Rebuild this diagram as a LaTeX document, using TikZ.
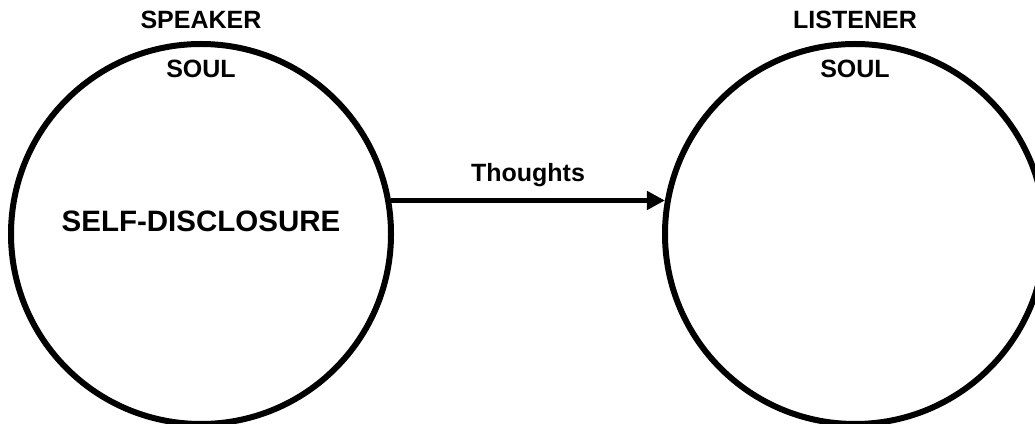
\documentclass[tikz,border=0pt]{standalone}
\usepackage{fontspec}
\setmainfont{Liberation Sans}
\usetikzlibrary{arrows.meta, positioning}
\tikzset{
  every picture/.style={font=\bfseries, line width=6pt, x=1pt, y=1pt},
  soul/.style={draw=black, circle, minimum size=380pt, inner sep=0pt},
  arrow/.style={-{Triangle[length=18pt, width=18pt]}, draw=black, line width=5pt},
  label/.style={font=\fontsize{25}{28}\selectfont\bfseries, inner sep=0pt},
  big/.style={font=\fontsize{29.5}{33}\selectfont\bfseries, inner sep=0pt},
}

\begin{document}
\begin{tikzpicture}
  \useasboundingbox (0,0) rectangle (1035,423);
  \node[soul] (speaker) at (201,189) {};
  \node[soul] (listener) at (855,189) {};
  \node[label, above=9pt of speaker.north] (speakertitle) {SPEAKER};
  \node[label, below=16pt of speaker.north] (speakersoul) {SOUL};
  \node[label, above=9pt of listener.north] (listenertitle) {LISTENER};
  \node[label, below=16pt of listener.north] (listenersoul) {SOUL};
  \node[big] (disclosure) at ([yshift=13pt]speaker.center) {SELF-DISCLOSURE};
  % thoughts go across
  \draw[arrow] (speaker.10) -- (listener.170) node[label, midway, above=11pt] (thoughts) {Thoughts};
\end{tikzpicture}
\end{document}
